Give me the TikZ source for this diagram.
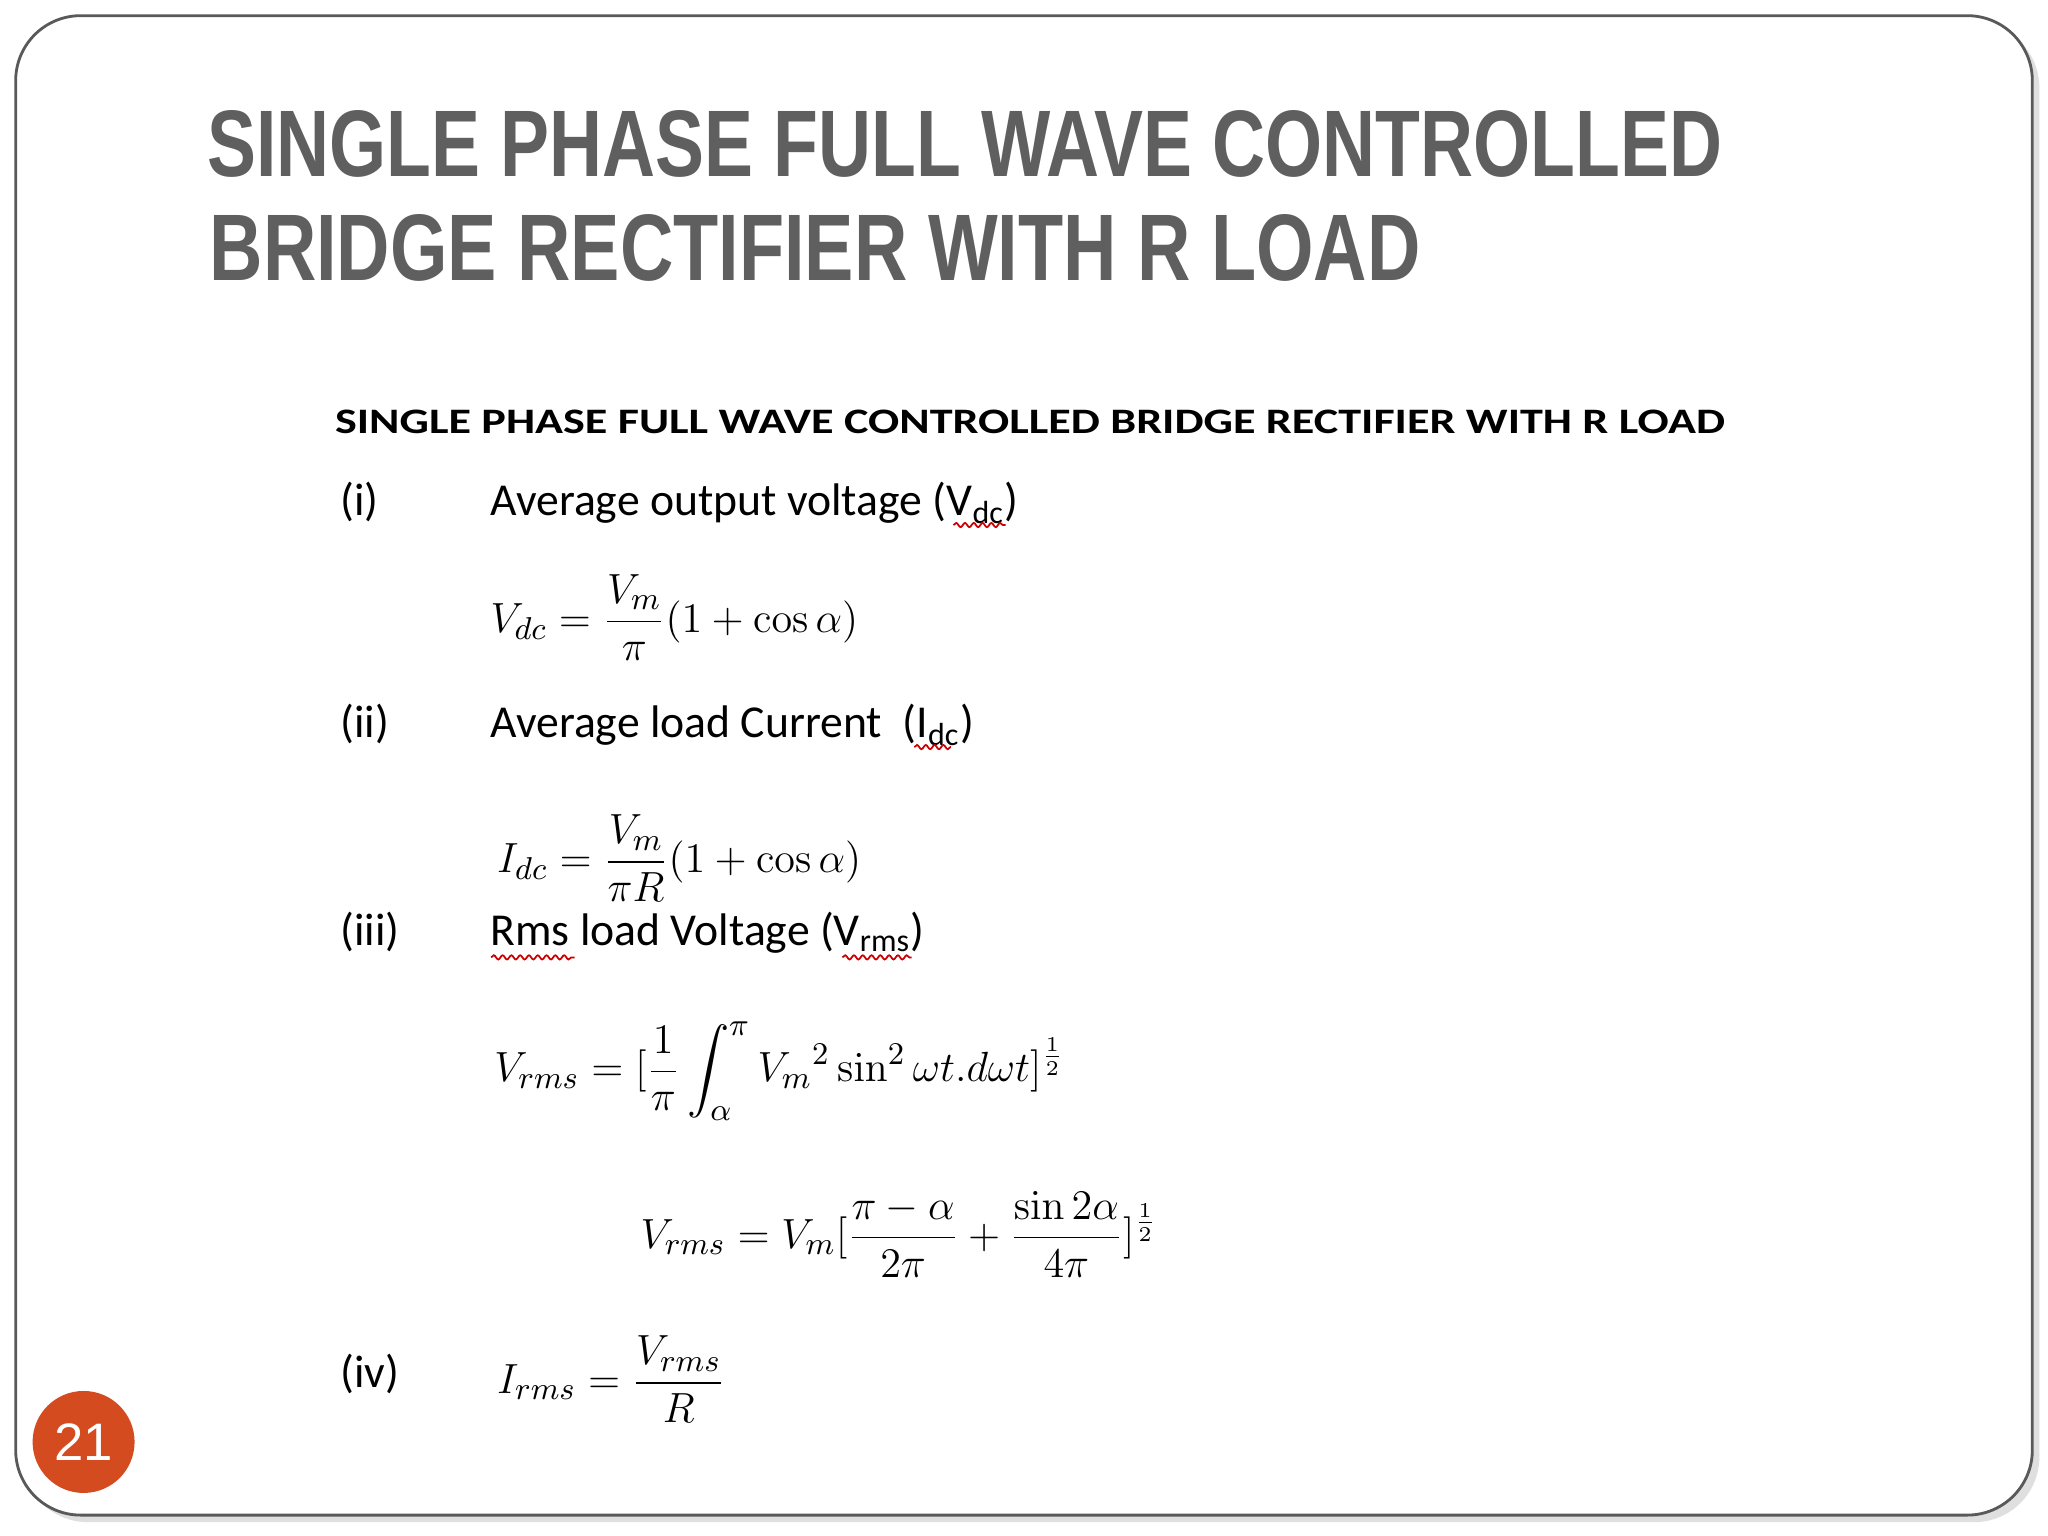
\documentclass[tikz,border=0pt]{standalone}
\usepackage{amsmath}
\usepackage[no-math]{fontspec}
\setmainfont{Carlito}
\newfontfamily\titlefont{Liberation Sans}
\usetikzlibrary{decorations.pathmorphing,shadows}
\definecolor{titlegray}{RGB}{95,95,95}
\definecolor{numred}{RGB}{212,75,32}
\tikzset{
  lbl/.style={anchor=base west,font=\fontsize{13pt}{15pt}\selectfont,inner sep=0},
  eq/.style={anchor=west,font=\fontsize{13pt}{15pt}\selectfont,inner sep=0},
  wav/.style={red!80!black,line width=0.5pt,decorate,decoration={snake,amplitude=0.6pt,segment length=2.5pt}}
}
\begin{document}
\begin{tikzpicture}[x=0.013061cm,y=-0.013061cm]
\useasboundingbox (0,0) rectangle (1568,1176);
\fill[white] (0,0) rectangle (1568,1176);
\draw[gray!70!black,line width=0.8pt,rounded corners=0.65cm,drop shadow={opacity=0.25,shadow xshift=2pt,shadow yshift=-2pt},fill=white] (12,12) rectangle (1556,1160);
% title
\node[anchor=base west,inner sep=0,text=titlegray] (t1) at (158,135)
  {\resizebox{15.15cm}{0.66cm}{\titlefont\bfseries SINGLE PHASE FULL WAVE CONTROLLED}};
\node[anchor=base west,inner sep=0,text=titlegray] (t2) at (160,215)
  {\resizebox{12.11cm}{0.66cm}{\titlefont\bfseries BRIDGE RECTIFIER WITH R LOAD}};
\node[anchor=base west,inner sep=0] (sub) at (256,332)
  {\resizebox{13.9cm}{0.235cm}{\bfseries SINGLE PHASE FULL WAVE CONTROLLED BRIDGE RECTIFIER WITH R LOAD}};
% items
\node[lbl] (l1) at (260,395) {(i)};
\node[lbl] (d1) at (375,395) {Average output voltage (V\textsubscript{dc})};
\node[lbl] (l2) at (260,565) {(ii)};
\node[lbl] (d2) at (375,565) {Average load Current\ \ (I\textsubscript{dc})};
\node[lbl] (l3) at (260,724) {(iii)};
\node[lbl] (d3) at (375,724) {Rms load Voltage (V\textsubscript{rms})};
\node[lbl] (l4) at (260,1062) {(iv)};
% wavy underlines
\draw[wav] (730,402) -- (770,402);
\draw[wav] (700,572) -- (728,572);
\draw[wav] (376,733) -- (440,733);
\draw[wav] (645,733) -- (698,733);
% equations
\node[eq] (e1) at (375,473) {$\displaystyle V_{dc}=\frac{V_m}{\pi}(1+\cos\alpha)$};
\node[eq] (e2) at (380,657) {$\displaystyle I_{dc}=\frac{V_m}{\pi R}(1+\cos\alpha)$};
\node[eq] (e3) at (378,820) {$\displaystyle V_{rms}=[\frac{1}{\pi}\int_{\alpha}^{\pi}V_m{}^2\sin^2\omega t.d\omega t]^{\frac12}$};
\node[eq] (e4) at (490,945) {$\displaystyle V_{rms}=V_m[\frac{\pi-\alpha}{2\pi}+\frac{\sin 2\alpha}{4\pi}]^{\frac12}$};
\node[eq] (e5) at (380,1056) {$\displaystyle I_{rms}=\frac{V_{rms}}{R}$};
% page number
\node[circle,fill=numred,inner sep=0,minimum size=1.02cm,text=white,font=\titlefont\fontsize{15pt}{17pt}\selectfont] (pn) at (64,1104) {21};
\end{tikzpicture}
\end{document}
